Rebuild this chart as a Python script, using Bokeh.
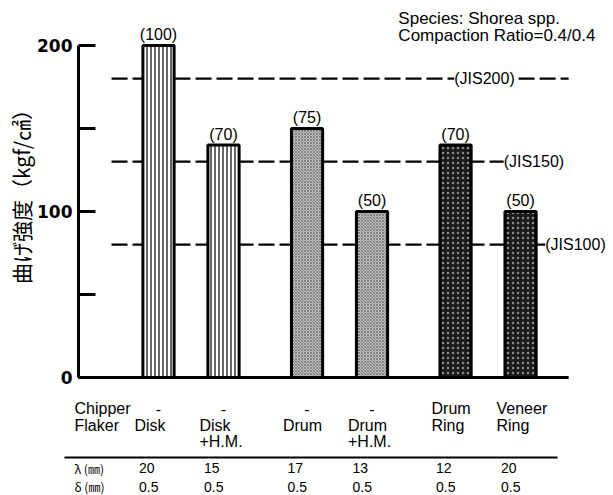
import math
from bokeh.plotting import figure
from bokeh.models import Range1d, FixedTicker, ColumnDataSource
from bokeh.core.properties import value
from bokeh.embed import file_html
from bokeh.resources import INLINE

# --- data -------------------------------------------------------------
methods = ["Chipper Disk", "Disk +H.M.", "Drum", "Drum +H.M.", "Drum Ring", "Veneer Ring"]
bending_strength = [200, 140, 150, 100, 140, 100]          # kgf/cm2
relative_pct = ["(100)", "(70)", "(75)", "(50)", "(70)", "(50)"]
chipper_row = ["-", "-", "-", "-", "Drum", "Veneer"]
flaker_row = ["Disk", "Disk", "Drum", "Drum", "Ring", "Ring"]
extra_row = ["", "+H.M.", "", "+H.M.", "", ""]
lambda_mm = ["20", "15", "17", "13", "12", "20"]
delta_mm = ["0.5", "0.5", "0.5", "0.5", "0.5", "0.5"]
jis_levels = [180, 130, 80]
jis_names = ["(JIS200)", "(JIS150)", "(JIS100)"]
y_ticks = [0, 50, 100, 150, 200]
y_tick_labels = {0: "0", 50: "", 100: "100", 150: "", 200: "200"}

# --- layout: bars come in pairs with a wider gap between pairs ---------
PAIR_GAP = 0.285
slots = [i + PAIR_GAP * (i // 2) for i in range(len(methods))]
AXIS_X = -1.2308          # where the value axis stands
BASE_END = 6.31           # right end of the baseline
LEFT_TXT = -1.292         # left edge of the row headers

SANS = "Liberation Sans"

p = figure(width=613, height=495, output_backend="svg", toolbar_location=None,
           x_range=Range1d(-2.431, 7.0), y_range=Range1d(-71.1, 227.1),
           x_axis_location=None, min_border_left=0, min_border_right=0,
           min_border_top=0, min_border_bottom=0)
p.outline_line_color = None
p.grid.visible = False
p.background_fill_color = "white"
p.border_fill_color = "white"

# y axis: spans 0..200 only, ticks pointing inward
ax = p.yaxis[0]
ax.fixed_location = AXIS_X
ax.bounds = (0, 200)
ax.ticker = FixedTicker(ticks=y_ticks)
ax.major_label_overrides = y_tick_labels
ax.minor_tick_line_color = None
ax.major_tick_in = 17
ax.major_tick_out = 0
ax.major_tick_line_width = 3
ax.axis_line_width = 3
ax.major_label_standoff = 6
ax.major_label_text_font = "DejaVu Sans"
ax.major_label_text_font_style = "bold"
ax.major_label_text_font_size = "17px"
ax.major_label_text_color = "black"

# rotated value-axis title
p.text(x=[-2.123], y=[112], text=["曲げ強度（kgf/㎠）"], angle=math.pi / 2,
       text_font=value("Noto Sans CJK JP"), text_font_size="21px",
       text_align="center", text_baseline="middle", text_color="black")

# JIS reference lines (dashed, behind the bars)
x_start = -0.723
jis_line_end = [4.55, 5.31, 5.95]
for lvl, end in zip(jis_levels, jis_line_end):
    p.line([x_start, end], [lvl, lvl], line_color="black", line_width=2.2, line_dash="16 5")
# trailing dashes after the JIS200 tag
p.line([5.54, BASE_END], [jis_levels[0], jis_levels[0]], line_color="black", line_width=2.2,
       line_dash="16 5")
jis_src = ColumnDataSource(dict(x=jis_line_end, y=jis_levels, t=jis_names))
p.text(x="x", y="y", text="t", source=jis_src, text_font=value(SANS),
       text_font_size="16px", text_baseline="middle", text_align="left", text_color="black")

# bars
fills = ["white", "white", "#c2c2c2", "#c2c2c2", "#1a1a1a", "#1a1a1a"]
hatches = ["vertical_line", "vertical_line", "x", "x", "dot", "dot"]
hatch_cols = ["black", "black", "#555555", "#555555", "#8c8c8c", "#8c8c8c"]
hatch_scales = [4, 4, 3, 3, 5, 5]
hatch_weights = [1.2, 1.2, 0.6, 0.6, 1.0, 1.0]
bars = ColumnDataSource(dict(x=slots, top=bending_strength, lab=relative_pct,
                             fill=fills, hatch=hatches, hcol=hatch_cols,
                             hscale=hatch_scales, hweight=hatch_weights))
p.vbar(x="x", top="top", bottom=0, width=0.48, source=bars, fill_color="fill",
       line_color="black", line_width=3, hatch_pattern="hatch", hatch_color="hcol",
       hatch_scale="hscale", hatch_weight="hweight")
p.text(x="x", y="top", text="lab", source=bars, text_font=value(SANS),
       text_font_size="16px", text_align="center", text_baseline="bottom",
       y_offset=-2, text_color="black")

# baseline
p.line([AXIS_X, BASE_END], [0, 0], line_color="black", line_width=3)

# header text
p.text(x=[3.69, 3.69], y=[216, 206],
       text=["Species: Shorea spp.", "Compaction Ratio=0.4/0.4"],
       text_font=value(SANS), text_font_size="17px", text_baseline="middle",
       text_align="left", text_color="black")

# table under the bars
ROW_Y = [-18.7, -28.9, -38.6]
LINE_Y = -48.2
LAMBDA_Y, DELTA_Y = -54.8, -65.7
name_x = [s - 0.37 for s in slots]
val_x = [s - 0.3 for s in slots]


def table_text(xs, ys, texts, font, size, align="left"):
    p.text(x=xs, y=ys, text=texts, text_font=value(font), text_font_size=size,
           text_baseline="middle", text_align=align, text_color="black")


dash_idx = [i for i, t in enumerate(chipper_row) if t == "-"]
name_idx = [i for i, t in enumerate(chipper_row) if t != "-"]
table_text([slots[i] for i in dash_idx], [ROW_Y[0]] * len(dash_idx),
           [chipper_row[i] for i in dash_idx], SANS, "16px", "center")
table_text([name_x[i] for i in name_idx], [ROW_Y[0]] * len(name_idx),
           [chipper_row[i] for i in name_idx], SANS, "16px")
table_text(name_x, [ROW_Y[1]] * len(slots), flaker_row, SANS, "16px")
table_text(name_x, [ROW_Y[2]] * len(slots), extra_row, SANS, "16px")
table_text([LEFT_TXT, LEFT_TXT], ROW_Y[:2], ["Chipper", "Flaker"], SANS, "16px")

p.line([-1.446, 6.138], [LINE_Y, LINE_Y], line_color="black", line_width=2)

table_text([LEFT_TXT, LEFT_TXT], [LAMBDA_Y, DELTA_Y], ["λ (㎜)", "δ (㎜)"],
           "Noto Sans CJK JP", "12px")
table_text(val_x, [LAMBDA_Y] * len(slots), lambda_mm, SANS, "14px")
table_text(val_x, [DELTA_Y] * len(slots), delta_mm, SANS, "14px")

open("out.html", "w").write(file_html(p, INLINE))
